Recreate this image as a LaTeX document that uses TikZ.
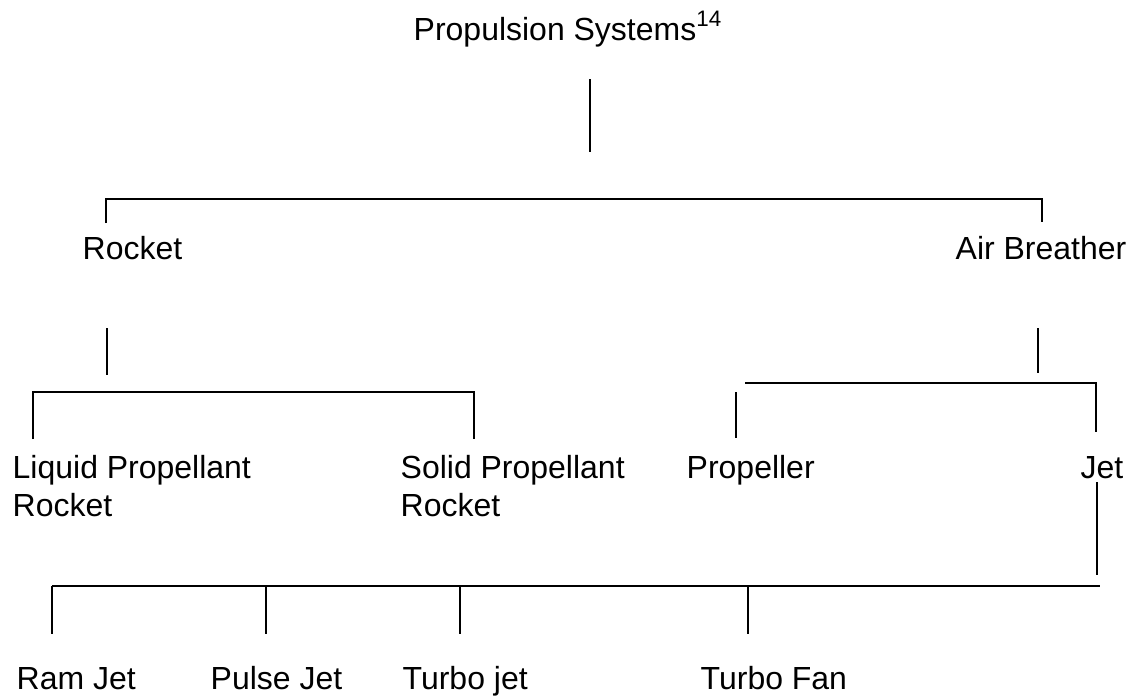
\documentclass[tikz,border=0pt]{standalone}
\usepackage{fontspec}
\setmainfont{Liberation Sans}

\begin{document}
\begin{tikzpicture}[
  x=1cm, y=-1cm,
  lbl/.style={anchor=base west, inner sep=0pt, align=left,
    font=\fontsize{9.1pt}{10.8pt}\selectfont},
  tie/.style={draw=black, line width=0.55pt}
]
  \useasboundingbox (0,0) rectangle (11.34,6.95);

  % labels (two-line labels sit on their last line)
  \node[lbl] (sys) at (4.13,0.40) {Propulsion Systems\textsuperscript{14}};
  \node[lbl] (rocket) at (0.82,2.59) {Rocket};
  \node[lbl] (air) at (9.55,2.59) {Air Breather};
  \node[lbl] (liquid) at (0.12,5.16) {Liquid Propellant\\Rocket};
  \node[lbl] (solid) at (4.00,5.16) {Solid Propellant\\Rocket};
  \node[lbl] (propeller) at (6.86,4.78) {Propeller};
  \node[lbl] (jet) at (10.80,4.78) {Jet};
  \node[lbl] (ram) at (0.16,6.89) {Ram Jet};
  \node[lbl] (pulse) at (2.10,6.89) {Pulse Jet};
  \node[lbl] (turbojet) at (4.02,6.89) {Turbo jet};
  \node[lbl] (turbofan) at (7.00,6.89) {Turbo Fan};

  % stems and brackets
  \coordinate (sys-a) at (5.90,0.79);
  \coordinate (sys-b) at (5.90,1.52);
  \draw[tie] (sys-a) -- (sys-b);

  \coordinate (rocket-up) at (1.06,2.23);
  \coordinate (air-up) at (10.42,2.22);
  \coordinate (split1) at (10.42,1.99);
  \draw[tie] (rocket-up) |- (split1) -- (air-up);

  \coordinate (rocket-a) at (1.07,3.28);
  \coordinate (rocket-b) at (1.07,3.75);
  \draw[tie] (rocket-a) -- (rocket-b);
  \coordinate (air-a) at (10.38,3.28);
  \coordinate (air-b) at (10.38,3.73);
  \draw[tie] (air-a) -- (air-b);

  \coordinate (liquid-up) at (0.33,4.39);
  \coordinate (solid-up) at (4.74,4.39);
  \coordinate (split2) at (4.74,3.92);
  \draw[tie] (liquid-up) |- (split2) -- (solid-up);

  \coordinate (split3a) at (7.45,3.83);
  \coordinate (split3) at (10.96,3.83);
  \coordinate (jet-up) at (10.96,4.32);
  \draw[tie] (split3a) -- (split3) -- (jet-up);
  \coordinate (propeller-a) at (7.36,3.92);
  \coordinate (propeller-up) at (7.36,4.38);
  \draw[tie] (propeller-a) -- (propeller-up);

  \coordinate (jet-a) at (10.97,4.82);
  \coordinate (jet-b) at (10.97,5.75);
  \draw[tie] (jet-a) -- (jet-b);

  \coordinate (bar-l) at (0.52,5.86);
  \coordinate (bar-r) at (11.00,5.86);
  \draw[tie] (bar-l) -- (bar-r);
  \foreach \n/\xx in {ram/0.52, pulse/2.66, turbojet/4.60, turbofan/7.48}{
    \coordinate (\n-up) at (\xx,6.34);
    \draw[tie] (\n-up |- bar-l) -- (\n-up);
  }
\end{tikzpicture}
\end{document}
